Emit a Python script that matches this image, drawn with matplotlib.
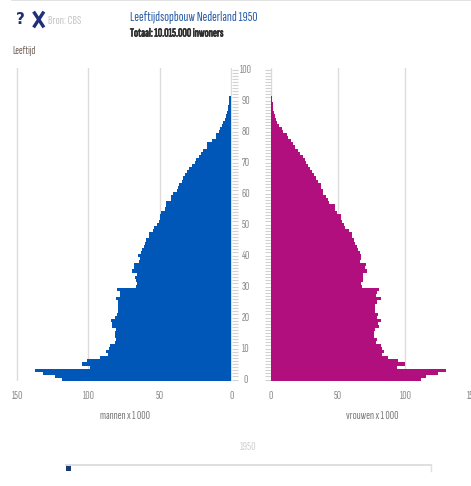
import matplotlib
matplotlib.use("Agg")
import matplotlib.pyplot as plt
import matplotlib.patheffects as pe
from matplotlib.lines import Line2D
from matplotlib.patches import Rectangle

plt.rcParams['font.family'] = ['Sofia Sans Extra Condensed', 'Pathway Gothic One', 'Liberation Sans', 'DejaVu Sans']

title = "Leeftijdsopbouw Nederland 1950"
subtitle = "Totaal: 10.015.000 inwoners"
source = "Bron: CBS"
age_label = "Leeftijd"
men_label = "mannen x 1 000"
women_label = "vrouwen x 1 000"
year_label = "1950"

men = [118.6, 123.3, 131.5, 137.5, 98.8, 104.7, 100.7, 91.8, 86.7, 87.6,
       86, 84.8, 81.8, 81.1, 81.4, 81.8, 80.7, 83.4, 83.7, 84.6,
       81.8, 80, 79.3, 79.3, 79.3, 79.3, 80.7, 77.9, 77.9, 80,
       66.7, 66.2, 67.1, 67.8, 66.2, 69.5, 68, 68, 64.5, 64.3,
       65.7, 63, 62.5, 61, 60.6, 59.7, 58, 58, 55, 54,
       52, 51, 50, 50, 49.5, 46.4, 46, 46, 42, 42,
       41, 38, 37.5, 37, 34.7, 34, 32.4, 31, 29.4, 27.7,
       25.4, 24.7, 23, 21.4, 20, 16.8, 16.8, 13.8, 11, 10.7,
       9, 8, 6.8, 5.6, 4.4, 3.7, 2.8, 2.6, 2.6, 1.4, 1.4, 1.4]
women = [111.4, 115.3, 124.3, 130, 93.6, 100, 94.8, 86.9, 82.9, 84.4,
         82.4, 81.7, 78.2, 78.7, 77, 77, 77.7, 80.4, 79.7, 81.7,
         78.7, 79.7, 77.7, 77.7, 77.7, 78.7, 81.7, 78.2, 78.7, 80.4,
         67.6, 66.8, 68.8, 68.8, 68.3, 71.3, 70.3, 70.5, 66, 66.8,
         67.3, 66, 65, 64.4, 63, 62, 60.5, 60.5, 58, 55,
         54.5, 53.3, 52.3, 52.3, 49, 47.7, 47.7, 43.5, 42.5, 41,
         39, 39, 37.5, 37.5, 35, 34, 32, 30.4, 29, 27.8,
         26.5, 25.5, 23.8, 21.8, 20, 18, 16.8, 14.9, 12.6, 11.9,
         9.4, 8.7, 6.2, 5, 3.7, 3, 2.5, 2, 1.5, 1.5, 1.2, 1.2]
ages = list(range(len(men)))
x_ticks = [0, 50, 100, 150]
age_ticks = list(range(0, 101, 10))
all_ages = list(range(0, 101))

W, H = 471, 486
fig = plt.figure(figsize=(W / 100, H / 100), dpi=100, facecolor='white')

def axes_px(x0, y0, x1, y1):
    return fig.add_axes([x0 / W, 1 - y1 / H, (x1 - x0) / W, (y1 - y0) / H])

def fx(px):
    return px / W

def fy(px):
    return 1 - px / H

BLUE = '#0057b8'
MAGENTA = '#b00f7d'
GRID = '#dcdcdc'
TICK = '#8a8a8a'
YL = (-0.48, 100.5)

axL = axes_px(12, 68, 231.5, 381)
axL.set_xlim((231.5 - 12) / 1.43, 0)
axR = axes_px(270.7, 68, 480, 381)
axR.set_xlim(0, (480 - 270.7) / 1.346)

for ax in (axL, axR):
    ax.set_ylim(*YL)
    ax.set_facecolor('none')
    for s in ax.spines.values():
        s.set_visible(False)
    ax.set_xticks(x_ticks)
    ax.tick_params(axis='x', length=0, pad=7.5, labelsize=8.5, labelcolor=TICK)
    ax.set_axisbelow(True)
    ax.grid(axis='x', color=GRID, lw=1)

axL.barh(ages, men, height=1, color=BLUE, lw=0)
axR.barh(ages, women, height=1, color=MAGENTA, lw=0)

# per-year dashes either side of the central age column
axL.set_yticks(all_ages, labels=[])
axL.yaxis.tick_right()
axL.tick_params(axis='y', which='major', direction='out', length=4.0, width=0.8,
                color='#d2d2d2', pad=0)
axR.set_yticks(all_ages, labels=[])
axR.yaxis.tick_left()
axR.tick_params(axis='y', which='major', direction='out', length=4.0, width=0.8,
                color='#d2d2d2', pad=0)

trans = axL.get_yaxis_transform()
for a in age_ticks:
    axL.text((246 - 12) / (231.5 - 12), a, str(a), transform=trans, ha='center',
             va='center', fontsize=8.5, color=TICK, clip_on=False)

fig.text(fx(130), fy(17), title, fontsize=10.3, color='#2b5fa8', va='center', ha='left')
fig.text(fx(130), fy(33.5), subtitle, fontsize=8.8, color='#2e2e2e', va='center', ha='left',
         path_effects=[pe.withStroke(linewidth=0.5, foreground='#2e2e2e')])
fig.text(fx(12), fy(51), age_label, fontsize=8, color='#6e5f55', va='center', ha='left')
fig.text(fx(48.5), fy(21), source, fontsize=9, color='#c4c4c4', va='center', ha='left')
fig.text(fx(20.5), fy(19), "?", fontsize=11, family='DejaVu Sans', color='#1f2f78', weight='bold',
         va='center', ha='center')
fig.text(fx(125), fy(415.5), men_label, fontsize=8.5, color='#777777', va='center', ha='center')
fig.text(fx(372), fy(415.5), women_label, fontsize=8.5, color='#777777', va='center', ha='center')
fig.text(fx(248.5), fy(446.5), year_label, fontsize=9, color='#d0d0d0', va='center', ha='center')

# icon, slider and header rule
overlay = [
    Line2D([fx(12), 1], [fy(0.5), fy(0.5)], color='#dddddd', lw=1.2),
    Line2D([fx(34.5), fx(43)], [fy(13), fy(26)], color='#1f2f78', lw=2.4),
    Line2D([fx(43), fx(34.5)], [fy(13), fy(26)], color='#1f2f78', lw=2.4),
    Line2D([fx(66), fx(430.5)], [fy(464.5), fy(464.5)], color='#dfdfdf', lw=1.4),
    Line2D([fx(430.5), fx(430.5)], [fy(464.5), fy(471)], color='#dfdfdf', lw=1),
]
for artist in overlay:
    artist.set_transform(fig.transFigure)
    fig.add_artist(artist)
fig.add_artist(Rectangle((fx(66), fy(471)), 5 / W, 6.5 / H, transform=fig.transFigure,
                         facecolor='#173a7a', lw=0))

fig.savefig('out.png', dpi=100, facecolor='white')
